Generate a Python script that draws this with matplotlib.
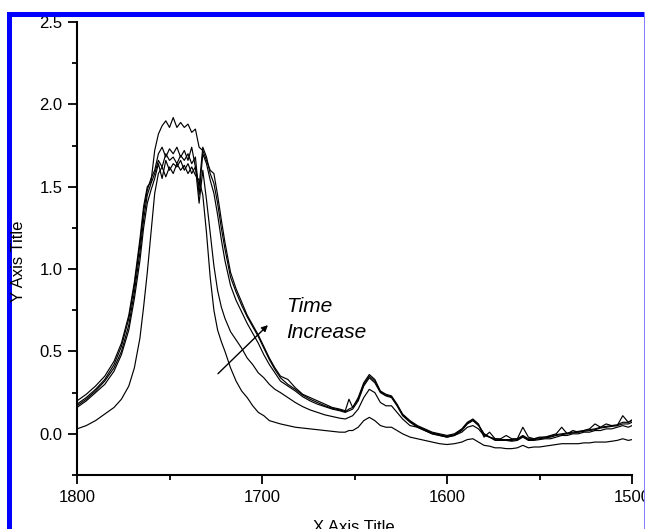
import matplotlib
matplotlib.use("Agg")
import matplotlib.pyplot as plt
from matplotlib.patches import Rectangle
from matplotlib.ticker import MultipleLocator, FormatStrFormatter

plt.rcParams['font.family'] = ['Liberation Sans', 'DejaVu Sans']

# wavenumber segments (cm-1)
x_rise = [1800, 1795, 1790, 1785, 1780, 1776, 1772, 1769, 1766, 1764, 1762, 1760]
x_peak = [1758, 1756, 1754, 1752, 1750, 1748, 1746, 1744, 1742, 1740, 1738, 1736, 1734, 1732, 1730]
x_fall = [1728, 1726, 1724, 1722, 1720, 1717, 1714, 1711, 1708, 1705, 1702, 1699, 1696, 1693,
          1690, 1686, 1682, 1678, 1674, 1670, 1666, 1662, 1658]
x_tail = [1655, 1653, 1651, 1648, 1645, 1642, 1639, 1636, 1633, 1630, 1627, 1624, 1620, 1616,
          1612, 1608, 1604, 1600, 1596, 1592, 1589, 1586, 1583, 1580, 1577, 1574, 1571, 1568,
          1565, 1562, 1559, 1556, 1553, 1550, 1547, 1544, 1541, 1538, 1535, 1532, 1529, 1526,
          1523, 1520, 1517, 1514, 1511, 1508, 1505, 1502, 1500]

# curve A (earliest time, lowest)
a_rise = [0.03, 0.05, 0.08, 0.12, 0.16, 0.21, 0.29, 0.40, 0.58, 0.77, 0.98, 1.22]
a_peak = [1.46, 1.58, 1.62, 1.56, 1.62, 1.58, 1.64, 1.60, 1.63, 1.58, 1.62, 1.57, 1.54, 1.45, 1.22]
a_fall = [0.95, 0.75, 0.63, 0.56, 0.50, 0.40, 0.32, 0.26, 0.22, 0.17, 0.13, 0.11, 0.08, 0.07,
          0.06, 0.05, 0.04, 0.035, 0.03, 0.025, 0.02, 0.015, 0.01]
a_tail = [0.01, 0.02, 0.02, 0.04, 0.08, 0.10, 0.08, 0.05, 0.04, 0.04, 0.02, 0.0, -0.02, -0.03,
          -0.04, -0.05, -0.06, -0.065, -0.06, -0.05, -0.035, -0.03, -0.05, -0.07, -0.075,
          -0.085, -0.085, -0.09, -0.09, -0.085, -0.07, -0.085, -0.08, -0.08, -0.075, -0.07,
          -0.065, -0.06, -0.06, -0.06, -0.06, -0.055, -0.055, -0.05, -0.05, -0.05, -0.045,
          -0.04, -0.03, -0.04, -0.035]

# curve B
b_rise = [0.16, 0.20, 0.25, 0.30, 0.38, 0.48, 0.63, 0.82, 1.05, 1.25, 1.40, 1.48]
b_peak = [1.55, 1.64, 1.55, 1.66, 1.60, 1.64, 1.62, 1.66, 1.60, 1.64, 1.58, 1.62, 1.40, 1.60, 1.42]
b_fall = [1.22, 1.02, 0.87, 0.77, 0.70, 0.62, 0.57, 0.52, 0.46, 0.42, 0.37, 0.34, 0.30, 0.27,
          0.25, 0.22, 0.19, 0.165, 0.145, 0.13, 0.115, 0.105, 0.095]
b_tail = [0.09, 0.10, 0.11, 0.15, 0.22, 0.27, 0.25, 0.19, 0.17, 0.17, 0.13, 0.09, 0.05, 0.04,
          0.02, 0.0, -0.01, -0.02, -0.01, 0.01, 0.04, 0.05, 0.03, -0.01, -0.02, -0.04, -0.04,
          -0.04, -0.045, -0.04, -0.02, -0.04, -0.04, -0.035, -0.03, -0.03, -0.02, -0.01, -0.01,
          0.0, 0.0, 0.01, 0.01, 0.02, 0.02, 0.03, 0.03, 0.04, 0.05, 0.04, 0.05]

# curve C
c_rise = [0.17, 0.21, 0.26, 0.32, 0.40, 0.50, 0.66, 0.86, 1.10, 1.30, 1.45, 1.52]
c_peak = [1.58, 1.66, 1.62, 1.70, 1.66, 1.68, 1.64, 1.69, 1.66, 1.70, 1.64, 1.68, 1.45, 1.70, 1.64]
c_fall = [1.54, 1.46, 1.33, 1.18, 1.05, 0.90, 0.81, 0.74, 0.67, 0.61, 0.55, 0.48, 0.42, 0.37,
          0.32, 0.29, 0.26, 0.225, 0.20, 0.18, 0.165, 0.15, 0.14]
c_tail = [0.13, 0.14, 0.15, 0.20, 0.29, 0.34, 0.31, 0.25, 0.23, 0.22, 0.17, 0.11, 0.07, 0.04,
          0.02, 0.0, -0.01, -0.02, -0.01, 0.02, 0.06, 0.08, 0.05, 0.0, -0.02, -0.035, -0.04,
          -0.04, -0.04, -0.035, -0.015, -0.035, -0.035, -0.03, -0.025, -0.02, -0.01, -0.005,
          0.0, 0.005, 0.01, 0.015, 0.02, 0.025, 0.035, 0.04, 0.045, 0.05, 0.06, 0.06, 0.07]

# curve D
d_rise = [0.18, 0.22, 0.27, 0.33, 0.42, 0.53, 0.70, 0.90, 1.15, 1.35, 1.48, 1.55]
d_peak = [1.60, 1.70, 1.74, 1.68, 1.73, 1.70, 1.74, 1.68, 1.72, 1.66, 1.74, 1.62, 1.50, 1.74, 1.68]
d_fall = [1.58, 1.52, 1.40, 1.25, 1.12, 0.95, 0.86, 0.78, 0.71, 0.65, 0.59, 0.52, 0.45, 0.39,
          0.34, 0.30, 0.27, 0.235, 0.21, 0.19, 0.17, 0.155, 0.145]
d_tail = [0.135, 0.15, 0.16, 0.21, 0.30, 0.35, 0.32, 0.255, 0.235, 0.225, 0.175, 0.115, 0.075,
          0.045, 0.025, 0.005, -0.005, -0.015, -0.005, 0.025, 0.065, 0.085, 0.055, 0.0, -0.02,
          -0.03, -0.035, -0.035, -0.035, -0.03, -0.01, -0.03, -0.03, -0.025, -0.02, -0.015,
          -0.005, 0.0, 0.005, 0.01, 0.015, 0.02, 0.025, 0.03, 0.04, 0.045, 0.05, 0.055, 0.07,
          0.07, 0.08]

# curve E (latest time, highest)
e_rise = [0.20, 0.24, 0.29, 0.35, 0.44, 0.55, 0.72, 0.92, 1.18, 1.38, 1.50, 1.53]
e_peak = [1.72, 1.82, 1.87, 1.90, 1.86, 1.92, 1.86, 1.89, 1.86, 1.88, 1.83, 1.85, 1.74, 1.72, 1.66]
e_fall = [1.60, 1.58, 1.45, 1.30, 1.16, 0.98, 0.88, 0.80, 0.72, 0.66, 0.60, 0.53, 0.46, 0.40,
          0.35, 0.33, 0.28, 0.24, 0.22, 0.20, 0.18, 0.16, 0.15]
e_tail = [0.14, 0.21, 0.16, 0.22, 0.31, 0.36, 0.33, 0.26, 0.24, 0.23, 0.18, 0.12, 0.08, 0.05,
          0.03, 0.01, 0.0, -0.01, 0.0, 0.03, 0.07, 0.09, 0.06, -0.02, 0.01, -0.03, -0.03, -0.01,
          -0.03, -0.03, 0.04, -0.02, -0.03, -0.02, -0.02, -0.01, 0.0, 0.04, 0.0, 0.02, 0.01,
          0.02, 0.03, 0.06, 0.04, 0.06, 0.05, 0.05, 0.11, 0.07, 0.085]

x_ticks = [1800, 1700, 1600, 1500]
y_ticks = [0.0, 0.5, 1.0, 1.5, 2.0, 2.5]

wn = x_rise + x_peak + x_fall + x_tail
curves = [
    a_rise + a_peak + a_fall + a_tail,
    b_rise + b_peak + b_fall + b_tail,
    c_rise + c_peak + c_fall + c_tail,
    d_rise + d_peak + d_fall + d_tail,
    e_rise + e_peak + e_fall + e_tail,
]

W, H = 645, 529
fig = plt.figure(figsize=(W / 100, H / 100), dpi=100)
fig.patch.set_facecolor('white')

ax = fig.add_axes([77 / W, (H - 475) / H, (632 - 77) / W, (475 - 22) / H])
for ys in curves:
    ax.plot(wn, ys, color='black', lw=0.85)

ax.set_xlim(1800, 1500)
ax.set_ylim(-0.25, 2.5)
ax.set_xticks(x_ticks)
ax.set_yticks(y_ticks)
ax.xaxis.set_minor_locator(MultipleLocator(50))
ax.yaxis.set_minor_locator(MultipleLocator(0.25))
ax.yaxis.set_major_formatter(FormatStrFormatter('%.1f'))
for s in ['top', 'right']:
    ax.spines[s].set_visible(False)
for s in ['left', 'bottom']:
    ax.spines[s].set_linewidth(1.5)
ax.tick_params(which='major', direction='out', length=6.5, width=1.3, labelsize=12, pad=4)
ax.tick_params(which='minor', direction='out', length=3.5, width=1.3)

# annotation
ax.annotate('', xy=(1696.8, 0.66), xytext=(1723.8, 0.365),
            arrowprops=dict(arrowstyle='-|>', color='black', lw=1.0,
                            mutation_scale=9, shrinkA=0, shrinkB=0))
fig.text(286 / W, (H - 312) / H, 'Time', fontsize=15, style='italic', va='baseline', ha='left')
fig.text(286 / W, (H - 338) / H, 'Increase', fontsize=15, style='italic', va='baseline', ha='left')

# axis titles
fig.text(354 / W, (H - 532) / H, 'X Axis Title', fontsize=12, ha='center', va='baseline')
fig.text(18.5 / W, (H - 261) / H, 'Y Axis Title', fontsize=12, ha='center', va='center',
         rotation=90)

# blue frame
fig.patches.append(Rectangle((7 / W, 0), 5 / W, (H - 12) / H, transform=fig.transFigure,
                             facecolor='#0000ff', edgecolor='none', zorder=0))
fig.patches.append(Rectangle((7 / W, (H - 17) / H), (W - 7) / W, 5 / H, transform=fig.transFigure,
                             facecolor='#0000ff', edgecolor='none', zorder=0))
fig.patches.append(Rectangle((643.5 / W, 0), 1.5 / W, (H - 12) / H, transform=fig.transFigure,
                             facecolor='#8080ff', edgecolor='none', zorder=0))

fig.savefig('out.png', dpi=100)
